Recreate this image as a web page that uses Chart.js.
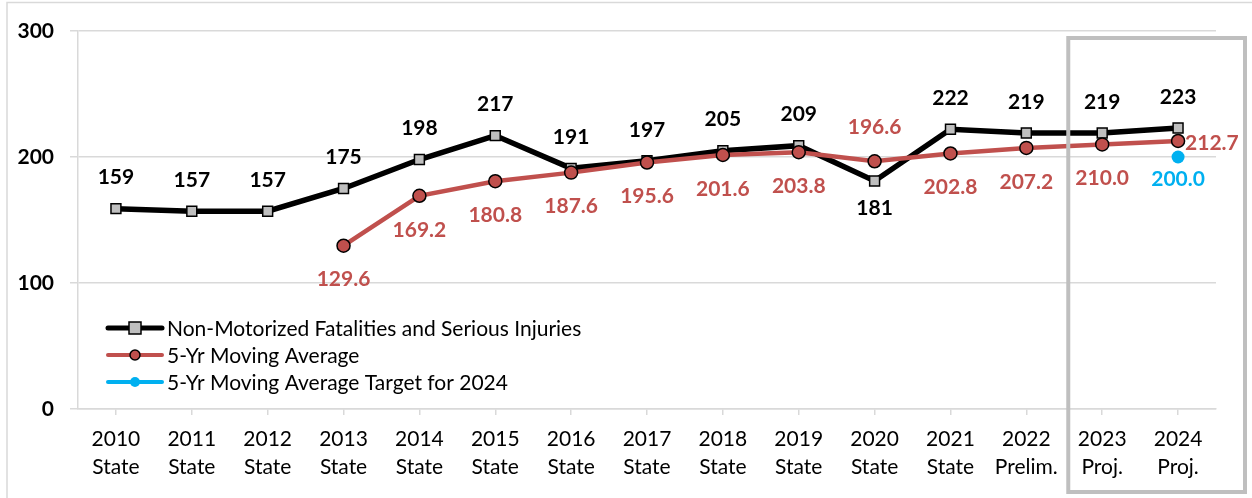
<!DOCTYPE html>
<html><head><meta charset="utf-8">
<script src="https://cdn.jsdelivr.net/npm/chart.js@4"></script>
<style>html,body{margin:0;padding:0;background:#fff}#wrap{width:1252px;height:498px;position:relative}</style>
</head><body><div id="wrap"><canvas id="c" width="1252" height="498"></canvas></div>
<script>
const categories = [["2010","State"],["2011","State"],["2012","State"],["2013","State"],["2014","State"],["2015","State"],["2016","State"],["2017","State"],["2018","State"],["2019","State"],["2020","State"],["2021","State"],["2022","Prelim."],["2023","Proj."],["2024","Proj."]];
const fatalities = [159,157,157,175,198,217,191,197,205,209,181,222,219,219,223];
const movingAvg = [null,null,null,129.6,169.2,180.8,187.6,195.6,201.6,203.8,196.6,202.8,207.2,210.0,212.7];
const target = [null,null,null,null,null,null,null,null,null,null,null,null,null,null,200.0];
const yTicks = [0,100,200,300];
const legendLabels = ["Non-Motorized Fatalities and Serious Injuries","5-Yr Moving Average","5-Yr Moving Average Target for 2024"];

const FONT = "Lato, 'Liberation Sans', sans-serif";
const BLACK='#000000', RED='#C0504D', BLUE='#00B0F0', GRAYM='#BFBFBF';

const labelPlugin = {
  id:'labels',
  afterDatasetsDraw(chart){
    const ctx=chart.ctx, xs=chart.scales.x, ys=chart.scales.y;
    ctx.save();
    ctx.textAlign='center'; ctx.textBaseline='middle';
    ctx.font="bold 21px "+FONT;
    fatalities.forEach((v,i)=>{
      const x=xs.getPixelForValue(i), y=ys.getPixelForValue(v);
      ctx.fillStyle=BLACK;
      if(i===10) ctx.fillText(String(v),x,y+27);
      else ctx.fillText(String(v),x,y-31);
    });
    movingAvg.forEach((v,i)=>{
      if(v===null) return;
      const x=xs.getPixelForValue(i), y=ys.getPixelForValue(v);
      ctx.fillStyle=RED;
      const t=v.toFixed(1);
      if(i===10) ctx.fillText(t,x,y-34);
      else if(i===14){ctx.textAlign='left';ctx.fillText(t,x+7,y+2);ctx.textAlign='center';}
      else ctx.fillText(t,x,y+34);
    });
    target.forEach((v,i)=>{
      if(v===null) return;
      const x=xs.getPixelForValue(i), y=ys.getPixelForValue(v);
      ctx.fillStyle=BLUE;
      ctx.fillText(v.toFixed(1),x,y+22);
    });
    // legend
    ctx.textAlign='left'; ctx.font="21px "+FONT;
    const lx=106, ly=[328,355,382];
    [[BLACK,5,'rect',GRAYM],[RED,4,'circle',RED],[BLUE,4,'circle',BLUE]].forEach((s,k)=>{
      ctx.strokeStyle=s[0]; ctx.lineWidth=s[1]; ctx.lineCap='round';
      ctx.beginPath(); ctx.moveTo(lx+2,ly[k]); ctx.lineTo(lx+56,ly[k]); ctx.stroke();
      const cx=lx+29;
      if(s[2]==='rect'){ctx.fillStyle=s[3];ctx.fillRect(cx-6,ly[k]-6,12,12);ctx.lineWidth=1.5;ctx.strokeStyle='#000';ctx.strokeRect(cx-6,ly[k]-6,12,12);}
      else {ctx.beginPath();ctx.arc(cx,ly[k],5,0,Math.PI*2);ctx.fillStyle=s[3];ctx.fill();if(k===1){ctx.lineWidth=1.5;ctx.strokeStyle='#000';ctx.stroke();}}
      ctx.fillStyle='#000'; ctx.fillText(legendLabels[k],lx+61,ly[k]+1);
    });
    ctx.restore();
  },
  afterDraw(chart){
    const ctx=chart.ctx, xs=chart.scales.x;
    ctx.save();
    ctx.strokeStyle='#D9D9D9'; ctx.lineWidth=1.5;
    ctx.beginPath(); ctx.moveTo(7,498); ctx.lineTo(7,2.5); ctx.lineTo(1252,2.5); ctx.stroke();
    const left=(xs.getPixelForValue(12)+xs.getPixelForValue(13))/2+4;
    ctx.strokeStyle='#BFBFBF'; ctx.lineWidth=4;
    ctx.strokeRect(left,38,1245-left,454);
    ctx.restore();
  }
};

new Chart(document.getElementById('c'),{
  type:'line',
  data:{labels:categories,datasets:[
    {label:legendLabels[0],data:fatalities,borderColor:BLACK,borderWidth:5.5,pointStyle:'rect',pointRadius:7,pointBackgroundColor:GRAYM,pointBorderColor:'#000',pointBorderWidth:1.5,order:1},
    {label:legendLabels[1],data:movingAvg,borderColor:RED,borderWidth:4.5,pointStyle:'circle',pointRadius:6.5,pointBackgroundColor:RED,pointBorderColor:'#000',pointBorderWidth:1.5,order:0},
    {label:legendLabels[2],data:target,borderColor:BLUE,borderWidth:4,pointStyle:'circle',pointRadius:6.5,pointBackgroundColor:BLUE,pointBorderColor:BLUE,pointBorderWidth:0,order:0}
  ]},
  options:{
    responsive:false,animation:false,
    layout:{padding:{top:31,right:36,left:0,bottom:0}},
    plugins:{legend:{display:false},tooltip:{enabled:false}},
    scales:{
      x:{offset:true,
        grid:{offset:false,drawOnChartArea:false,drawTicks:true,tickLength:6,color:'#D9D9D9',lineWidth:1.5},
        border:{color:'#D9D9D9',width:1.5},
        ticks:{color:'#000',font:{family:FONT,size:21,lineHeight:1.3},padding:11,maxRotation:0,autoSkip:false},
        afterFit(s){s.height=89;}
      },
      y:{min:0,max:300,
        afterBuildTicks(s){s.ticks=yTicks.map(v=>({value:v}));},
        grid:{color:'#D9D9D9',lineWidth:1.5,tickLength:8},
        border:{color:'#D9D9D9',width:1.5},
        ticks:{color:'#000',font:{family:FONT,size:21,weight:'bold'},padding:16},
        afterFit(s){s.width=78;}
      }
    }
  },
  plugins:[labelPlugin]
});
</script></body></html>
